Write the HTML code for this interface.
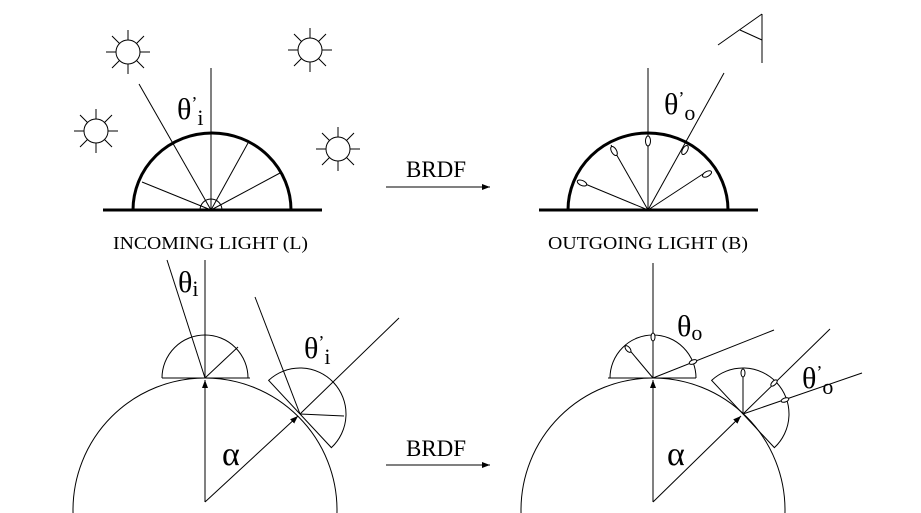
<!DOCTYPE html>
<html><head><style>html,body{margin:0;background:#fff;overflow:hidden;width:921px;height:513px}svg{display:block}</style></head><body>
<svg width="921" height="513" viewBox="0 0 921 513" xmlns="http://www.w3.org/2000/svg" font-family="Liberation Serif, serif">
<defs>
<g id="sun" stroke="#000" stroke-width="1" fill="none">
<circle r="12"/>
<path d="M0 -12V-22M0 12V22M-12 0H-22M12 0H22M8.5 -8.5L16 -16M-8.5 -8.5L-16 -16M8.5 8.5L16 16M-8.5 8.5L-16 16"/>
</g>
<marker id="ah" markerWidth="8" markerHeight="6" refX="8" refY="3" orient="auto"><path d="M0 0L8 3L0 6Z" fill="#000"/></marker>
</defs>
<g stroke="#000" fill="none">
<use href="#sun" x="128" y="52"/><use href="#sun" x="310" y="50"/><use href="#sun" x="96" y="131"/><use href="#sun" x="338" y="149"/>
<line x1="103" y1="210" x2="322" y2="210" stroke-width="3"/>
<path d="M133 210A79 77 0 0 1 291 210" stroke-width="3"/>
<g stroke-width="1">
<line x1="211" y1="68" x2="211" y2="210"/>
<line x1="139" y1="84" x2="211" y2="210"/>
<line x1="142" y1="182" x2="211" y2="210"/>
<line x1="248" y1="143" x2="211" y2="210"/>
<line x1="280" y1="173" x2="211" y2="210"/>
<path d="M200 210a11 11 0 0 1 22 0"/>
</g>
<line x1="539" y1="210" x2="758" y2="210" stroke-width="3"/>
<path d="M568 210A80 77 0 0 1 728 210" stroke-width="3"/>
<g stroke-width="1">
<line x1="648" y1="68" x2="648" y2="210"/>
<line x1="724" y1="73" x2="648" y2="210"/>
<line x1="578" y1="181" x2="648" y2="210"/>
<line x1="611" y1="145" x2="648" y2="210"/>
<line x1="706" y1="172" x2="648" y2="210"/>
<path d="M718 45L762 14M740 30L762 40M762 14V63"/>
</g>
<g fill="#fff" stroke-width="1">
<ellipse cx="648" cy="141" rx="2.5" ry="5"/>
<ellipse cx="614" cy="151" rx="2.5" ry="5" transform="rotate(-30 614 151)"/>
<ellipse cx="685" cy="150" rx="2.5" ry="5" transform="rotate(30 685 150)"/>
<ellipse cx="582" cy="183" rx="2.5" ry="5" transform="rotate(-67 582 183)"/>
<ellipse cx="707" cy="174" rx="2.5" ry="5" transform="rotate(61 707 174)"/>
</g>
<line x1="386" y1="187" x2="490" y2="187" marker-end="url(#ah)"/>
<line x1="386" y1="465" x2="490" y2="465" marker-end="url(#ah)"/>
<circle cx="205" cy="510" r="132"/>
<line x1="162" y1="378" x2="250" y2="378"/>
<path d="M162 378A43 43 0 0 1 248 378"/>
<line x1="205" y1="260" x2="205" y2="378"/>
<line x1="167" y1="260" x2="205" y2="378"/>
<line x1="205" y1="378" x2="238" y2="347"/>
<line x1="205" y1="502" x2="205" y2="380" marker-end="url(#ah)"/>
<line x1="205" y1="502" x2="298" y2="416" marker-end="url(#ah)"/>
<g transform="translate(300 414) rotate(47)"><path d="M-46 0A46 46 0 0 1 46 0Z"/></g>
<line x1="255" y1="297" x2="300" y2="414"/>
<line x1="300" y1="414" x2="399" y2="318"/>
<line x1="300" y1="414" x2="344" y2="416"/>
<circle cx="653" cy="510" r="132"/>
<line x1="608" y1="378" x2="696" y2="378"/>
<path d="M610 378A43 43 0 0 1 696 378"/>
<line x1="653" y1="263" x2="653" y2="378"/>
<line x1="653" y1="378" x2="774" y2="330"/>
<line x1="653" y1="378" x2="627" y2="347"/>
<line x1="653" y1="502" x2="653" y2="380" marker-end="url(#ah)"/>
<line x1="653" y1="502" x2="741" y2="416" marker-end="url(#ah)"/>
<g transform="translate(743 414) rotate(47)"><path d="M-46 0A46 46 0 0 1 46 0Z"/></g>
<line x1="743" y1="414" x2="830" y2="329"/>
<line x1="743" y1="414" x2="862" y2="373"/>
<line x1="743" y1="414" x2="743" y2="370"/>
<g fill="#fff" stroke-width="1">
<ellipse cx="653" cy="337" rx="2" ry="4"/>
<ellipse cx="628" cy="349" rx="2" ry="4" transform="rotate(-40 628 349)"/>
<ellipse cx="693" cy="362" rx="2" ry="4" transform="rotate(68 693 362)"/>
<ellipse cx="743" cy="373" rx="2" ry="4"/>
<ellipse cx="774" cy="383" rx="2" ry="4" transform="rotate(45 774 383)"/>
<ellipse cx="785" cy="400" rx="2" ry="4" transform="rotate(71 785 400)"/>
</g>
</g>
<g fill="#000">
<text x="177" y="119" font-size="30">θ<tspan font-size="18" dy="-10">’</tspan><tspan font-size="22" dy="16">i</tspan></text>
<text x="664" y="114" font-size="30">θ<tspan font-size="18" dy="-10">’</tspan><tspan font-size="22" dy="16">o</tspan></text>
<text x="113" y="249" font-size="18" textLength="195" lengthAdjust="spacingAndGlyphs">INCOMING LIGHT (L)</text>
<text x="548" y="249" font-size="18" textLength="200" lengthAdjust="spacingAndGlyphs">OUTGOING LIGHT (B)</text>
<text x="406" y="177" font-size="23">BRDF</text>
<text x="406" y="456" font-size="23">BRDF</text>
<text x="178" y="292" font-size="30">θ<tspan font-size="22" dy="4">i</tspan></text>
<text x="304" y="358" font-size="30">θ<tspan font-size="18" dy="-10">’</tspan><tspan font-size="22" dy="16">i</tspan></text>
<text x="222" y="465" font-size="34">α</text>
<text x="677" y="336" font-size="30">θ<tspan font-size="22" dy="4">o</tspan></text>
<text x="802" y="388" font-size="30">θ<tspan font-size="18" dy="-10">’</tspan><tspan font-size="22" dy="16">o</tspan></text>
<text x="667" y="465" font-size="34">α</text>
</g>
</svg>
</body></html>
